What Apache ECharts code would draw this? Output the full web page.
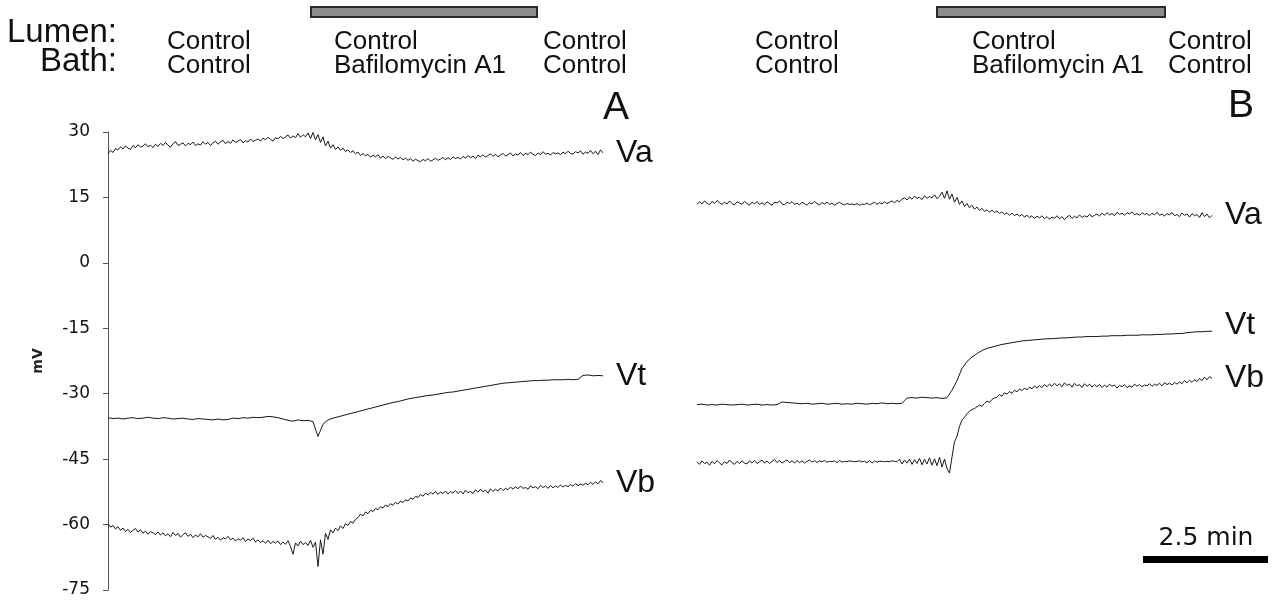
<!DOCTYPE html>
<html><head><meta charset="utf-8">
<script src="https://cdn.jsdelivr.net/npm/echarts@6/dist/echarts.min.js"></script>
<style>html,body{margin:0;padding:0;background:#fff}#c{width:1279px;height:603px}</style>
</head><body><div id="c"></div>
<script>
// ---- data (mV), time in minutes from trace start ----
const STEP_FINE = 0.05;   // sample spacing (min) for noisy traces
const STEP_COARSE = 0.1;  // sample spacing (min) for smooth traces
const Y_MIN = -75, Y_MAX = 30, Y_STEP = 15;

const vaA = [
 25.0,25.8,25.3,26.2,25.9,26.6,26.1,26.8,26.3,26.0,26.9,26.4,27.1,26.5,26.8,27.3,26.6,27.0,26.4,27.2,
 26.7,27.4,26.9,27.6,27.0,26.5,27.3,27.8,26.9,27.2,27.5,26.8,27.4,27.1,27.7,26.9,27.3,27.0,27.8,27.2,
 27.6,26.9,27.5,27.9,27.2,27.7,28.1,27.3,27.8,27.4,28.2,27.6,27.9,28.3,27.5,28.0,27.7,28.4,27.8,28.1,
 28.4,27.9,28.6,28.2,28.8,28.3,27.9,28.7,28.4,29.0,28.5,28.9,29.3,28.6,29.1,28.7,29.6,28.8,29.4,28.9,
 29.8,28.5,29.9,28.2,29.4,27.6,28.9,26.8,27.9,26.3,27.1,26.0,26.6,25.8,26.3,25.5,25.9,25.3,25.7,25.0,
 25.4,24.6,25.1,24.5,24.9,24.2,24.7,24.3,24.8,24.0,24.5,23.9,24.4,24.1,23.7,24.3,23.8,24.2,23.6,24.0,
 23.5,23.9,23.3,23.8,23.4,23.2,23.7,23.4,23.9,23.3,23.6,24.0,23.5,23.8,24.2,23.6,24.1,23.7,24.3,23.9,
 24.2,23.8,24.4,24.0,24.6,24.1,24.5,23.9,24.7,24.3,24.8,24.2,24.6,25.0,24.4,24.9,24.3,24.7,25.1,24.5,
 24.8,25.2,24.5,25.0,24.7,25.3,24.6,25.1,24.8,25.4,24.9,24.6,25.2,24.8,25.5,24.9,25.1,24.7,25.3,25.0,
 25.2,24.8,25.4,25.0,25.6,25.1,24.9,25.5,25.2,25.7,24.9,25.4,25.1,25.8,25.0,25.6,24.8,25.9,25.2
];
const vtA = [
 -35.5,-35.7,-35.6,-35.8,-35.6,-35.5,-35.7,-35.6,-35.4,-35.6,
 -35.7,-35.5,-35.6,-35.8,-35.7,-35.6,-35.8,-35.9,-35.7,-35.8,
 -35.9,-36.0,-35.8,-36.0,-35.9,-35.6,-35.7,-35.5,-35.6,-35.4,
 -35.5,-35.4,-35.2,-35.3,-35.5,-35.8,-36.1,-36.3,-36.0,-36.2,
 -36.1,-36.4,-39.8,-37.0,-36.0,-35.6,-35.3,-35.0,-34.7,-34.4,
 -34.1,-33.8,-33.5,-33.2,-32.9,-32.6,-32.3,-32.0,-31.8,-31.5,
 -31.2,-31.0,-30.8,-30.6,-30.4,-30.3,-30.1,-29.9,-29.7,-29.6,
 -29.4,-29.2,-29.0,-28.8,-28.6,-28.4,-28.2,-28.0,-27.8,-27.6,
 -27.5,-27.4,-27.3,-27.2,-27.1,-27.0,-27.0,-26.9,-26.9,-26.8,
 -26.8,-26.8,-26.7,-26.8,-26.7,-25.8,-25.7,-25.9,-25.8,-25.9
];
const vbA = [
 -59.8,-60.6,-60.2,-61.0,-60.5,-61.3,-60.8,-61.6,-61.1,-61.8,-61.3,-60.9,-61.7,-61.2,-62.0,-61.5,-62.2,-61.6,-61.9,-62.3,
 -61.7,-62.4,-61.9,-62.6,-62.1,-62.8,-61.8,-62.5,-62.0,-62.9,-62.3,-61.9,-62.7,-62.2,-63.0,-62.4,-62.8,-62.1,-62.9,-62.5,
 -62.8,-63.2,-62.5,-63.4,-62.9,-63.6,-63.0,-63.3,-62.7,-63.5,-63.1,-63.8,-63.2,-63.6,-63.0,-63.9,-63.3,-63.7,-63.1,-64.0,
 -63.5,-64.1,-63.7,-64.3,-63.6,-64.4,-63.9,-64.2,-63.8,-64.6,-64.0,-64.5,-63.7,-65.0,-66.8,-64.2,-64.9,-63.8,-64.6,-64.1,
 -64.8,-63.6,-65.2,-64.0,-69.6,-63.5,-66.8,-62.0,-63.4,-61.2,-61.9,-60.8,-61.4,-60.3,-60.9,-59.8,-60.2,-59.3,-59.7,-58.8,
 -58.4,-57.6,-58.0,-57.1,-57.5,-56.7,-57.0,-56.3,-56.6,-55.9,-56.2,-55.5,-55.9,-55.2,-55.6,-54.9,-55.3,-54.6,-55.0,-54.3,
 -54.6,-53.9,-54.2,-53.5,-53.8,-53.1,-53.5,-52.8,-53.2,-52.6,-53.0,-52.4,-53.1,-52.5,-52.9,-52.3,-53.0,-52.4,-52.8,-52.2,
 -52.9,-52.3,-53.0,-52.1,-52.7,-52.4,-52.9,-52.0,-52.6,-51.9,-52.5,-52.1,-52.8,-51.8,-52.4,-51.9,-52.3,-51.6,-52.2,-51.7,
 -52.0,-51.4,-51.9,-51.3,-51.8,-51.2,-51.7,-51.5,-51.9,-51.1,-51.6,-51.3,-51.8,-51.0,-51.5,-51.2,-51.7,-51.0,-51.6,-51.1,
 -51.5,-50.9,-51.4,-51.0,-51.3,-50.8,-51.2,-50.6,-51.1,-50.7,-51.0,-50.5,-50.9,-50.3,-50.8,-50.2,-50.7,-49.9,-50.4
];
const vaB = [
 13.4,14.0,13.5,14.2,13.7,13.3,14.1,13.6,14.3,13.8,13.4,13.9,13.5,14.2,13.6,13.3,14.0,13.7,13.4,14.1,
 13.6,13.2,13.9,13.5,14.1,13.4,13.8,13.3,14.0,13.6,13.2,13.9,13.7,14.2,13.5,13.3,13.9,13.6,14.0,13.4,
 13.7,13.3,13.9,13.6,13.2,13.8,13.5,14.1,13.6,13.3,13.8,13.5,13.9,13.4,13.7,13.2,13.6,13.9,13.5,13.3,
 13.6,13.4,13.5,13.3,13.6,13.2,13.5,13.4,13.7,13.3,13.6,13.9,13.4,13.8,13.5,14.0,13.6,13.9,14.2,13.8,
 14.3,14.0,14.6,14.9,14.4,15.1,14.6,15.3,14.8,15.0,14.5,15.4,14.8,15.2,14.9,15.6,14.7,15.3,16.2,14.8,
 16.5,14.6,15.8,13.9,15.0,13.4,14.2,12.9,13.6,12.6,13.2,12.3,12.8,12.0,12.5,11.8,12.2,11.6,12.1,11.5,
 11.9,11.3,11.7,11.1,11.5,10.9,11.4,10.8,11.2,10.7,11.1,10.5,10.9,10.4,10.8,10.2,10.7,10.3,10.8,10.1,
 10.6,10.0,10.5,10.2,10.8,10.1,10.6,9.9,10.5,10.9,10.2,10.7,10.3,11.0,10.4,10.8,10.5,11.1,10.6,10.9,
 11.2,10.7,11.4,10.9,11.5,11.0,11.3,10.8,11.6,11.1,11.4,10.9,11.5,11.2,11.7,11.0,11.3,10.9,11.5,11.1,
 11.3,10.8,11.4,11.0,11.6,10.9,11.2,10.7,11.3,11.0,11.5,10.8,11.1,10.6,11.4,10.9,11.2,10.5,11.3,10.8,
 11.1,10.4,11.5,10.6,11.2,10.3,10.9
];
const vtB = [
 -32.5,-32.4,-32.6,-32.5,-32.6,-32.4,-32.5,-32.6,-32.5,-32.4,
 -32.6,-32.5,-32.4,-32.6,-32.5,-32.6,-32.5,-31.9,-32.0,-32.1,
 -32.2,-32.3,-32.2,-32.4,-32.3,-32.2,-32.4,-32.3,-32.2,-32.4,
 -32.3,-32.4,-32.2,-32.3,-32.4,-32.2,-32.3,-32.1,-32.3,-32.2,
 -32.3,-32.2,-31.0,-30.9,-31.0,-30.8,-30.9,-31.0,-30.9,-31.1,
 -30.9,-29.2,-27.0,-24.2,-22.6,-21.6,-20.8,-20.1,-19.6,-19.3,
 -19.0,-18.7,-18.5,-18.3,-18.1,-17.9,-17.8,-17.7,-17.6,-17.5,
 -17.4,-17.4,-17.3,-17.2,-17.2,-17.1,-17.0,-17.0,-16.9,-16.9,
 -16.9,-16.8,-16.8,-16.7,-16.7,-16.7,-16.6,-16.6,-16.6,-16.5,
 -16.5,-16.5,-16.4,-16.4,-16.3,-16.3,-16.2,-16.2,-16.0,-15.9,
 -15.8,-15.8,-15.7,-15.7
];
const vbB = [
 -45.6,-46.2,-45.4,-46.0,-45.7,-46.4,-45.5,-46.1,-45.3,-45.9,-46.3,-45.6,-46.0,-45.2,-45.8,-46.2,-45.5,-46.0,-45.4,-45.9,
 -46.1,-45.4,-45.9,-45.3,-46.0,-45.6,-45.2,-45.9,-45.4,-46.0,-45.5,-45.1,-45.8,-45.3,-45.9,-45.5,-45.2,-45.8,-45.4,-45.9,
 -45.3,-45.8,-45.4,-45.9,-45.5,-45.2,-45.7,-45.3,-45.8,-45.4,-45.6,-45.3,-45.7,-45.5,-45.6,-45.4,-45.8,-45.3,-45.7,-45.5,
 -45.6,-45.4,-45.5,-45.6,-45.5,-45.4,-45.6,-45.5,-45.8,-45.3,-45.9,-45.4,-45.7,-45.5,-45.5,-45.6,-45.5,-45.6,-45.4,-45.5,
 -45.6,-45.0,-46.1,-45.2,-45.9,-45.0,-46.2,-45.1,-46.0,-44.8,-46.3,-45.0,-46.1,-44.7,-46.4,-44.9,-46.5,-44.6,-46.8,-45.0,
 -47.2,-48.2,-44.5,-41.0,-39.8,-37.5,-36.0,-35.4,-34.6,-34.0,-33.6,-33.4,-33.0,-32.6,-32.9,-32.2,-31.7,-32.0,-31.3,-31.0,
 -30.8,-30.2,-30.6,-29.8,-30.1,-29.5,-29.9,-29.2,-29.6,-28.9,-29.3,-28.7,-29.1,-28.5,-28.9,-28.2,-28.7,-28.1,-28.6,-27.9,
 -28.4,-27.8,-28.3,-27.6,-28.2,-27.7,-28.4,-27.5,-28.1,-27.8,-28.5,-27.6,-28.2,-27.9,-28.6,-27.7,-28.3,-27.8,-28.5,-27.9,
 -28.4,-27.9,-28.6,-28.0,-28.5,-27.8,-28.3,-28.0,-28.7,-28.1,-28.4,-27.9,-28.6,-28.2,-28.5,-27.8,-28.3,-27.9,-28.4,-28.0,
 -28.2,-27.7,-28.3,-27.8,-28.1,-27.6,-28.2,-27.5,-27.9,-27.6,-28.0,-27.4,-27.8,-27.3,-27.7,-27.0,-27.5,-26.9,-27.4,-26.8,
 -27.2,-26.5,-27.0,-26.2,-26.8,-26.1,-26.5
];

// Bafilomycin A1 application period (min) and time scale bar
const bafA = [4.06, 8.58];
const bafB = [4.8, 9.36];
const SCALE_BAR_MIN = 2.5;
const SCALE_BAR_LABEL = '2.5 min';

const panelALabels = [['Control','Control'],['Control','Bafilomycin A1'],['Control','Control']];
const panelBLabels = [['Control','Control'],['Control','Bafilomycin A1'],['Control','Control']];

// ---- chart ----
const pairs = (arr, step) => arr.map((v, i) => [Math.round(i * step * 1000) / 1000, v]);
const chart = echarts.init(document.getElementById('c'), null, {renderer: 'canvas'});
const SANS = '"Liberation Sans", Arial, Helvetica, sans-serif';
const TRACE = '#1a1a1a';

function trace(name, arr, step, idx, offset) {
  return {
    type: 'line', name, xAxisIndex: idx, yAxisIndex: idx,
    data: pairs(arr, step), showSymbol: false, symbol: 'none', silent: true,
    lineStyle: {color: TRACE, width: 1}, itemStyle: {color: TRACE},
    endLabel: {show: true, formatter: '{a}', distance: 13, offset: offset || [0, 0],
      fontFamily: SANS, fontSize: 32, color: '#111'}
  };
}

chart.setOption({
  animation: false,
  backgroundColor: '#fff',
  grid: [
    {left: 108, top: 132, width: 500, height: 458},
    {left: 697, top: 132, width: 525, height: 458}
  ],
  xAxis: [
    {gridIndex: 0, type: 'value', min: 0, max: 10, show: false},
    {gridIndex: 1, type: 'value', min: 0, max: 10.5, show: false}
  ],
  yAxis: [
    {gridIndex: 0, type: 'value', min: Y_MIN, max: Y_MAX, interval: Y_STEP,
     axisLine: {show: true, onZero: false, lineStyle: {color: '#555', width: 1}},
     axisTick: {show: true, length: 5, lineStyle: {color: '#555'}},
     axisLabel: {fontFamily: 'DejaVu Sans', fontSize: 17, color: '#111', margin: 18},
     splitLine: {show: false},
     name: 'mV', nameLocation: 'middle', nameRotate: 90, nameGap: 63,
     nameTextStyle: {fontFamily: 'DejaVu Sans', fontSize: 14, fontWeight: 'bold', color: '#222'}},
    {gridIndex: 1, type: 'value', min: Y_MIN, max: Y_MAX, interval: Y_STEP, show: false}
  ],
  series: [
    trace('Va', vaA, STEP_FINE, 0),
    trace('Vt', vtA, STEP_COARSE, 0),
    trace('Vb', vbA, STEP_FINE, 0),
    trace('Va', vaB, STEP_FINE, 1),
    trace('Vt', vtB, STEP_COARSE, 1, [0, -6]),
    trace('Vb', vbB, STEP_FINE, 1)
  ]
});

const px = (axis, v) => chart.convertToPixel({xAxisIndex: axis}, v);
function txt(x, y, text, size, align, family) {
  return {type: 'text', x, y, silent: true,
    style: {text, fill: '#111', font: size + 'px ' + (family || SANS),
      textAlign: align || 'left', textVerticalAlign: 'middle'}};
}
function bar(axis, range) {
  const x0 = px(axis, range[0]), x1 = px(axis, range[1]);
  return {type: 'rect', silent: true, shape: {x: x0, y: 7, width: x1 - x0, height: 10},
    style: {fill: '#8c8c8c', stroke: '#2a2a2a', lineWidth: 2}};
}
const colA = [167, 334, 543], colB = [755, 972, 1168];
const g = [
  txt(117, 33, 'Lumen:', 33, 'right'),
  txt(117, 62, 'Bath:', 33, 'right'),
  bar(0, bafA), bar(1, bafB),
  txt(603, 108, 'A', 39), txt(1228, 106, 'B', 39)
];
panelALabels.forEach((p, i) => { g.push(txt(colA[i], 42, p[0], 26)); g.push(txt(colA[i], 66, p[1], 26)); });
panelBLabels.forEach((p, i) => { g.push(txt(colB[i], 42, p[0], 26)); g.push(txt(colB[i], 66, p[1], 26)); });
const sbW = px(1, SCALE_BAR_MIN) - px(1, 0);
g.push({type: 'rect', silent: true, shape: {x: 1268 - sbW, y: 556, width: sbW, height: 7}, style: {fill: '#000'}});
g.push(txt(1206, 538, SCALE_BAR_LABEL, 25, 'center', 'DejaVu Sans'));
chart.setOption({graphic: g});
</script></body></html>
